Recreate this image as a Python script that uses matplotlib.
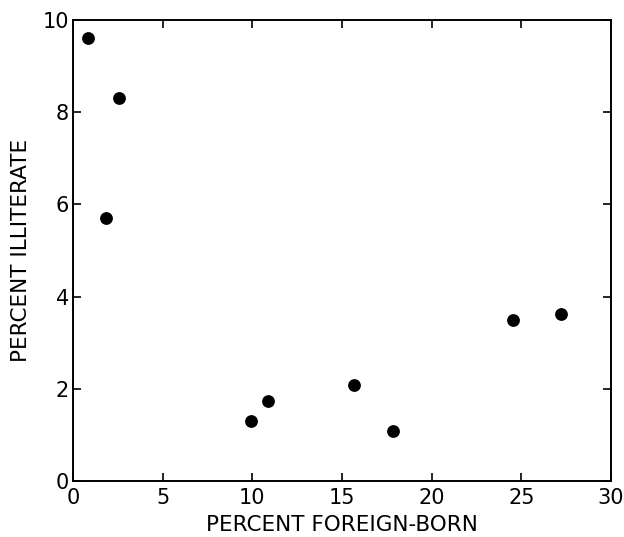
import matplotlib
matplotlib.use("Agg")
import matplotlib.pyplot as plt

foreign_born = [0.85, 2.55, 1.85, 9.9, 10.9, 15.65, 17.85, 24.55, 27.2]
illiterate = [9.6, 8.3, 5.7, 1.3, 1.73, 2.09, 1.08, 3.5, 3.63]
x_ticks = [0, 5, 10, 15, 20, 25, 30]
y_ticks = [0, 2, 4, 6, 8, 10]

fig = plt.figure(figsize=(6.24, 5.37), dpi=100)
ax = fig.add_axes([73/624, 56/537, 538/624, 461/537])
ax.scatter(foreign_born, illiterate, s=85, color="black", zorder=3, linewidths=0)
ax.set_xlim(0, 30)
ax.set_ylim(0, 10)
ax.set_xticks(x_ticks)
ax.set_yticks(y_ticks)
ax.tick_params(direction="in", top=True, right=True, length=6, width=1.2,
               labelsize=15)
ax.tick_params(axis="x", pad=5)
ax.tick_params(axis="y", pad=3)
for s in ax.spines.values():
    s.set_linewidth(1.4)
ax.set_xlabel("PERCENT FOREIGN-BORN", fontsize=15.5, labelpad=5)
ax.set_ylabel("PERCENT ILLITERATE", fontsize=15.5, labelpad=8)
fig.savefig("out.png", dpi=100)
